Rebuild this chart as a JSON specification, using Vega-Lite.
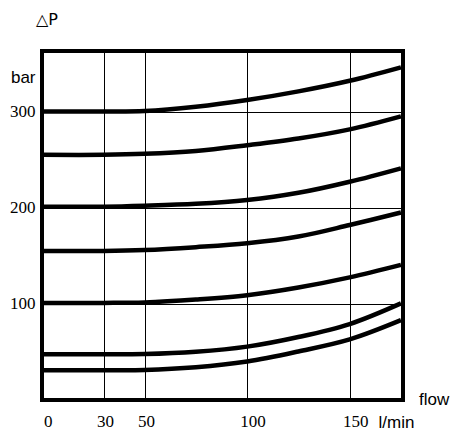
{
  "$schema": "https://vega.github.io/schema/vega-lite/v6.json",
  "width": 361,
  "height": 349,
  "autosize": "none",
  "padding": {"left": 42, "top": 51, "right": 48, "bottom": 32},
  "background": "white",
  "title": {
    "text": "△P",
    "anchor": "start",
    "frame": "group",
    "dx": -6,
    "offset": 10,
    "baseline": "alphabetic",
    "font": "DejaVu Sans",
    "fontSize": 16,
    "fontWeight": "normal",
    "color": "black"
  },
  "config": {
    "view": {"stroke": "black", "strokeWidth": 4},
    "axis": {
      "domain": false,
      "ticks": false,
      "grid": true,
      "gridColor": "black",
      "gridWidth": 1,
      "gridOpacity": 1,
      "labelColor": "black",
      "labelFont": "Liberation Sans Narrow",
      "labelFontSize": 17,
      "titleColor": "black",
      "titleFont": "Liberation Sans",
      "titleFontSize": 17,
      "titleFontWeight": "normal"
    }
  },
  "data": {
    "values": [
      {"curve": "a", "flow": 0, "dp": 300}, {"curve": "a", "flow": 30, "dp": 300}, {"curve": "a", "flow": 50, "dp": 300.5},
      {"curve": "a", "flow": 75, "dp": 305}, {"curve": "a", "flow": 100, "dp": 312}, {"curve": "a", "flow": 125, "dp": 321},
      {"curve": "a", "flow": 150, "dp": 332}, {"curve": "a", "flow": 175, "dp": 346},

      {"curve": "b", "flow": 0, "dp": 255}, {"curve": "b", "flow": 30, "dp": 255}, {"curve": "b", "flow": 50, "dp": 256},
      {"curve": "b", "flow": 75, "dp": 259}, {"curve": "b", "flow": 100, "dp": 265}, {"curve": "b", "flow": 125, "dp": 272},
      {"curve": "b", "flow": 150, "dp": 281.5}, {"curve": "b", "flow": 175, "dp": 295},

      {"curve": "c", "flow": 0, "dp": 201}, {"curve": "c", "flow": 30, "dp": 201}, {"curve": "c", "flow": 50, "dp": 202},
      {"curve": "c", "flow": 75, "dp": 204}, {"curve": "c", "flow": 100, "dp": 208}, {"curve": "c", "flow": 125, "dp": 215.5},
      {"curve": "c", "flow": 150, "dp": 227}, {"curve": "c", "flow": 175, "dp": 241},

      {"curve": "d", "flow": 0, "dp": 155}, {"curve": "d", "flow": 30, "dp": 155}, {"curve": "d", "flow": 50, "dp": 156},
      {"curve": "d", "flow": 75, "dp": 159}, {"curve": "d", "flow": 100, "dp": 163}, {"curve": "d", "flow": 125, "dp": 170},
      {"curve": "d", "flow": 150, "dp": 182}, {"curve": "d", "flow": 175, "dp": 195},

      {"curve": "e", "flow": 0, "dp": 101}, {"curve": "e", "flow": 30, "dp": 101}, {"curve": "e", "flow": 50, "dp": 101.5},
      {"curve": "e", "flow": 75, "dp": 104.5}, {"curve": "e", "flow": 100, "dp": 109}, {"curve": "e", "flow": 125, "dp": 117},
      {"curve": "e", "flow": 150, "dp": 127.5}, {"curve": "e", "flow": 175, "dp": 140.5},

      {"curve": "f", "flow": 0, "dp": 47.5}, {"curve": "f", "flow": 30, "dp": 47.5}, {"curve": "f", "flow": 50, "dp": 47.8},
      {"curve": "f", "flow": 75, "dp": 50.2}, {"curve": "f", "flow": 100, "dp": 55.5}, {"curve": "f", "flow": 125, "dp": 65.5},
      {"curve": "f", "flow": 150, "dp": 79}, {"curve": "f", "flow": 175, "dp": 100.5},

      {"curve": "g", "flow": 0, "dp": 31}, {"curve": "g", "flow": 30, "dp": 31}, {"curve": "g", "flow": 50, "dp": 31.2},
      {"curve": "g", "flow": 75, "dp": 34}, {"curve": "g", "flow": 100, "dp": 40}, {"curve": "g", "flow": 125, "dp": 50.5},
      {"curve": "g", "flow": 150, "dp": 63}, {"curve": "g", "flow": 175, "dp": 83}
    ]
  },
  "layer": [
    {
      "mark": {"type": "line", "interpolate": "catmull-rom", "strokeWidth": 4.5, "color": "black", "clip": true},
      "encoding": {
        "x": {
          "field": "flow",
          "type": "quantitative",
          "scale": {"domain": [0, 176], "nice": false, "zero": false},
          "axis": {
            "values": [0, 30, 50, 100, 150],
            "labelPadding": 13,
            "labelOffset": {"expr": "datum.value >= 100 ? 5.5 : 1.5"},
            "title": "l/min",
            "titleAnchor": "start",
            "titleAlign": "left",
            "titleBaseline": "alphabetic",
            "titleX": 336,
            "titleY": 27.5
          }
        },
        "y": {
          "field": "dp",
          "type": "quantitative",
          "scale": {"domain": [0, 363], "nice": false},
          "axis": {
            "values": [100, 200, 300],
            "labelPadding": 7,
            "title": "bar",
            "titleAngle": 0,
            "titleAlign": "right",
            "titleBaseline": "alphabetic",
            "titleX": -7,
            "titleY": 31
          }
        },
        "detail": {"field": "curve"}
      }
    },
    {
      "data": {"values": [{"label": "flow", "flow": 176, "dp": 0}]},
      "mark": {
        "type": "text",
        "align": "left",
        "baseline": "alphabetic",
        "dx": 16,
        "dy": 5,
        "font": "Liberation Sans",
        "fontSize": 17,
        "color": "black",
        "clip": false
      },
      "encoding": {
        "x": {"field": "flow", "type": "quantitative"},
        "y": {"field": "dp", "type": "quantitative"},
        "text": {"field": "label"}
      }
    }
  ]
}
